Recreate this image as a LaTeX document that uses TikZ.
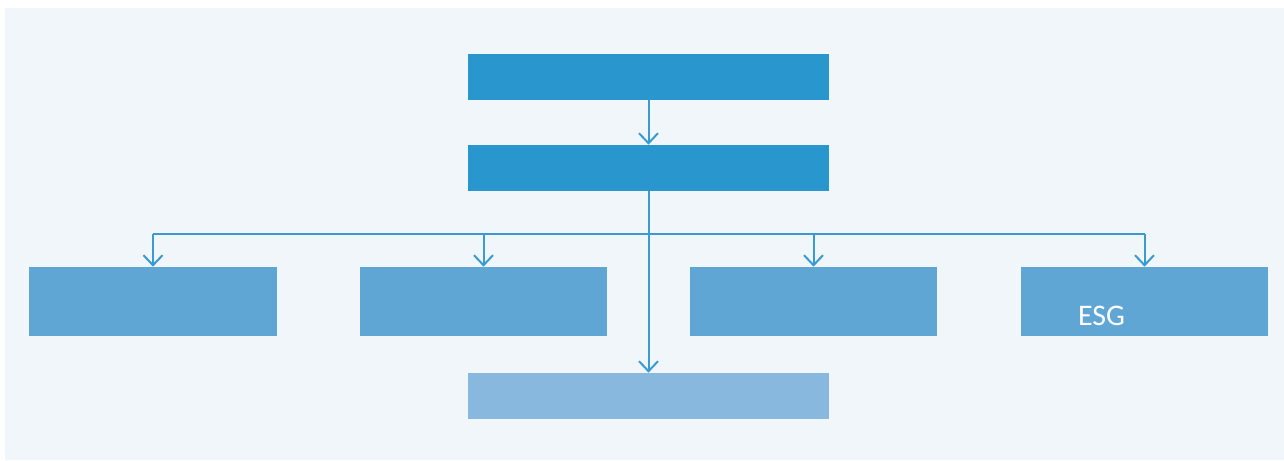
\documentclass[tikz,border=0pt]{standalone}
\usepackage{fontspec}
\setmainfont{Carlito}
\usetikzlibrary{arrows.meta}
\definecolor{panelblue}{HTML}{F1F6FB}
\definecolor{headblue}{HTML}{2A96CE}
\definecolor{unitblue}{HTML}{60A6D5}
\definecolor{paleblue}{HTML}{88B8DD}
\definecolor{linkblue}{HTML}{3A9AD3}

\begin{document}
\begin{tikzpicture}[x=0.02cm, y=-0.02cm,
    headbox/.style={rectangle, inner sep=0pt, fill=headblue, minimum width=7.22cm, minimum height=0.92cm},
    unitbox/.style={rectangle, inner sep=0pt, fill=unitblue, minimum width=4.96cm, minimum height=1.38cm},
    link/.style={draw=linkblue, line width=0.4mm, -{Straight Barb[length=2mm, width=3.8mm, line width=0.4mm]}}]

        \useasboundingbox (0,0) rectangle (1284,460);

        % Panel
        \fill[panelblue] (5,8) rectangle (1284,460);

        % Head boxes
        \node[headbox] (top) at (648.5,77) {};
        \node[headbox] (mid) at (648.5,168) {};

        % Units
        \node[unitbox] (unitA) at (153,301.5) {};
        \node[unitbox] (unitB) at (483.5,301.5) {};
        \node[unitbox] (unitC) at (813.5,301.5) {};
        \node[unitbox] (unitD) at (1144.5,301.5) {};
        \node[text=white, font=\fontsize{17}{20}\selectfont, inner sep=0pt] (esg) at (1101.5,315.5) {ESG};

        % Bottom box
        \node[headbox, fill=paleblue] (bottom) at (648.5,396) {};

        % Links
        \draw[link] (top.south) -- (mid.north);
        \draw[link] (mid.south) -- (bottom.north);

        % Bus
        \coordinate (busA) at (153,234);
        \coordinate (busB) at (483.5,234);
        \coordinate (busC) at (813.5,234);
        \coordinate (busD) at (1144.5,234);
        \draw[linkblue, line width=0.4mm] (busA) -- (busD);
        \draw[link] (busA) -- (unitA.north);
        \draw[link] (busB) -- (unitB.north);
        \draw[link] (busC) -- (unitC.north);
        \draw[link] (busD) -- (unitD.north);

\end{tikzpicture}
\end{document}
